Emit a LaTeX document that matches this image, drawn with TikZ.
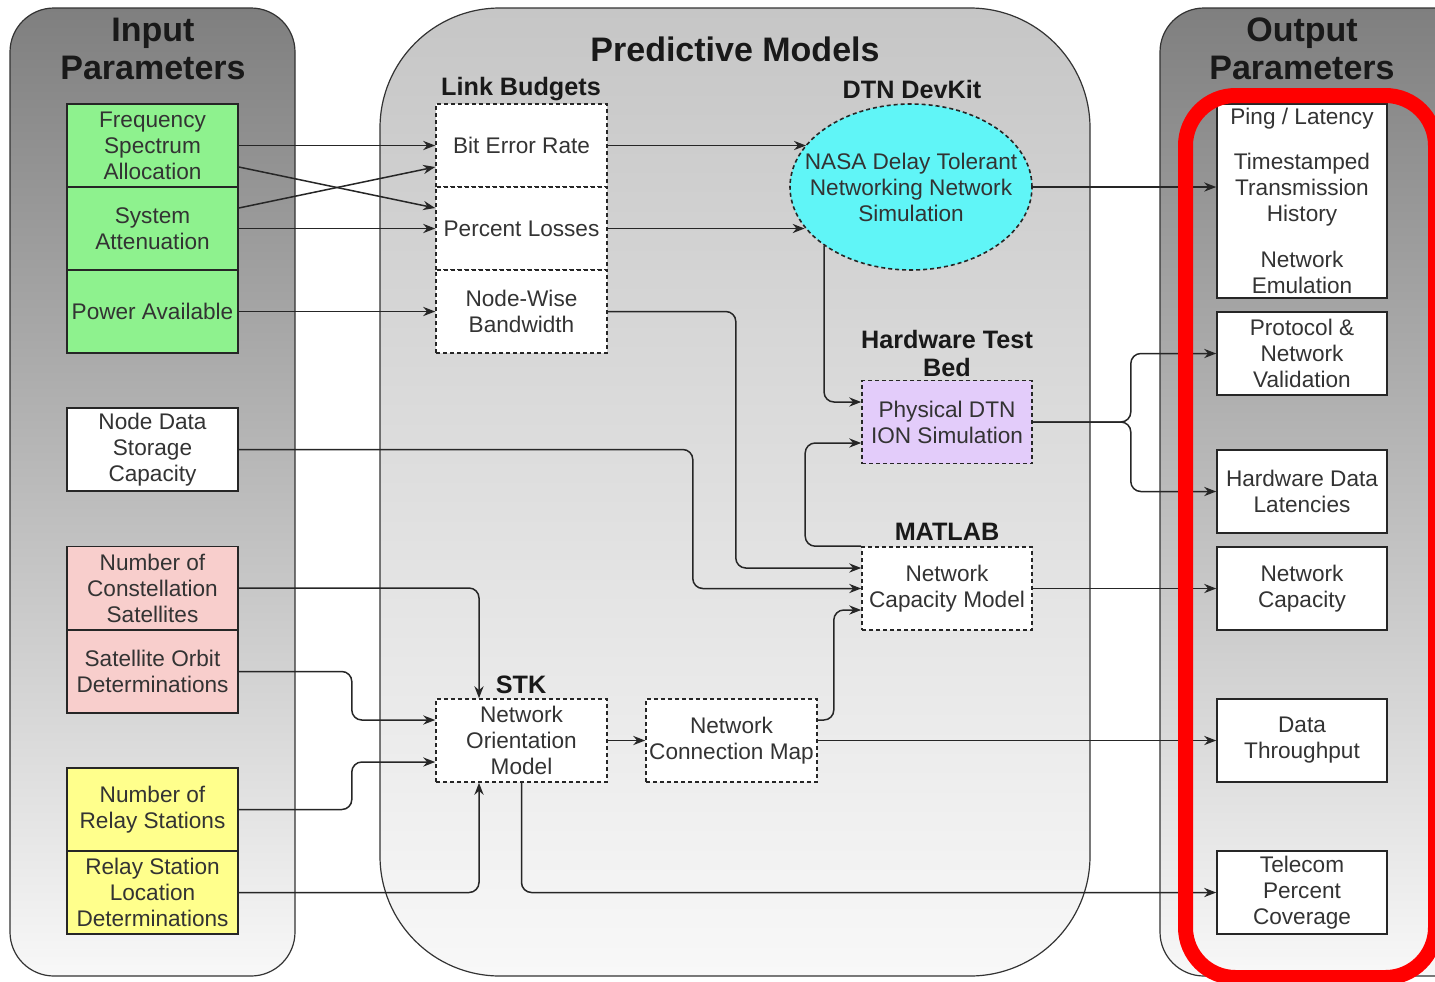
\documentclass[tikz,border=0pt]{standalone}
\usepackage{fontspec}
\setmainfont{Liberation Sans}
\usepackage{xcolor}
\usepackage{tikz}
\usetikzlibrary{shapes.geometric, arrows.meta, positioning}
\definecolor{ingreen}{HTML}{8EF28E}
\definecolor{inpink}{HTML}{F8CECC}
\definecolor{inyellow}{HTML}{FFFF8C}
\definecolor{devcyan}{HTML}{60F5F7}
\definecolor{hwlilac}{HTML}{E3CCFA}
\definecolor{panetop}{HTML}{7F7F7F}
\definecolor{panemid}{HTML}{C6C6C6}
\definecolor{panebot}{HTML}{F8F8F8}
\tikzstyle{arrow}     = [line width=0.75pt, draw=black!85, -{Stealth[length=6pt,width=4.6pt]}]
\tikzset{every node/.style={align=center}}

\begin{document}
\begin{tikzpicture}[x=0.5pt, y=-0.5pt,
    param/.style={rectangle, draw=black!85, line width=0.8pt,
                  minimum width=85.5pt, minimum height=41.5pt, inner sep=1pt,
                  font=\fontsize{11.3}{13}\selectfont, text=black!80},
    model/.style={param, dash pattern=on 2pt off 1.5pt, fill=white},
    result/.style={param, fill=white, minimum width=85pt},
    group/.style={font=\bfseries\fontsize{12.6}{14}\selectfont, text=black!90},
    title/.style={font=\bfseries\fontsize{17}{19}\selectfont, text=black!90},
    panel/.style={draw=black!80, line width=0.6pt, bottom color=panebot}
]
  \useasboundingbox (0,0) rectangle (1435,981);
  \clip (0,0) rectangle (1435,981);

  % --- panels ---
  \path[panel, top color=panetop, rounded corners=22pt] (10,8) rectangle (295,976);
  \path[panel, top color=panemid, rounded corners=60pt] (380,8) rectangle (1090,976);
  \path[panel, top color=panetop, rounded corners=22pt] (1160,8) rectangle (1480,976);
  \node[title] (tin)  at (153,49)  {Input\\Parameters};
  \node[title] (tpm)  at (735,49)  {Predictive Models};
  \node[title] (tout) at (1302,49) {Output\\Parameters};

  % --- input parameters ---
  \node[param, fill=ingreen]  (fsa) at (152.5,145.5) {Frequency\\Spectrum\\Allocation};
  \node[param, fill=ingreen]  (sat) at (152.5,228.5) {System\\Attenuation};
  \node[param, fill=ingreen]  (pow) at (152.5,311.5) {Power Available};
  \node[param, fill=white]    (nds) at (152.5,449.5) {Node Data\\Storage\\Capacity};
  \node[param, fill=inpink]   (ncs) at (152.5,588)   {Number of\\Constellation\\Satellites};
  \node[param, fill=inpink]   (sod) at (152.5,671.5) {Satellite Orbit\\Determinations};
  \node[param, fill=inyellow] (nrs) at (152.5,809.5) {Number of\\Relay Stations};
  \node[param, fill=inyellow] (rsl) at (152.5,892.5) {Relay Station\\Location\\Determinations};

  % --- predictive models ---
  \node[group] (glb) at (521,89) {Link Budgets};
  \node[model] (ber) at (521.5,145.5) {Bit Error Rate};
  \node[model] (pl)  at (521.5,228.5) {Percent Losses};
  \node[model] (nwb) at (521.5,311.5) {Node-Wise\\Bandwidth};

  \node[group] (gdk) at (912,89) {DTN DevKit};
  \node[ellipse, draw=black!85, line width=0.8pt, dash pattern=on 2pt off 1.5pt,
        fill=devcyan, minimum width=121pt, minimum height=83pt, inner sep=0pt] (dtn) at (911,187) {};
  \node[font=\fontsize{11.3}{13}\selectfont, text=black!80] (dtntext) at (dtn)
        {NASA Delay Tolerant\\Networking Network\\Simulation};

  \node[group] (ghw) at (947,353) {Hardware Test\\Bed};
  \node[model, fill=hwlilac, minimum width=85pt] (pdtn) at (947,422) {Physical DTN\\ION Simulation};

  \node[group] (gml) at (947,532) {MATLAB};
  \node[model, minimum width=85pt] (ncm) at (947,588.5) {Network\\Capacity Model};

  \node[group] (gstk) at (521,685) {STK};
  \node[model] (nom)   at (521.5,740.5) {Network\\Orientation\\Model};
  \node[model] (ncmap) at (731.5,740.5) {Network\\Connection Map};

  % --- output parameters ---
  \node[result, minimum height=97pt, inner sep=0.5pt] (ping) at (1302,201)
        {Ping / Latency\\[9.5pt]Timestamped\\Transmission\\History\\[10pt]Network\\Emulation};
  \node[result] (pnv)  at (1302,353.5) {Protocol \&\\Network\\Validation};
  \node[result] (hdl)  at (1302,491.5) {Hardware Data\\Latencies};
  \node[result] (ncap) at (1302,588.5) {Network\\Capacity};
  \node[result] (thr)  at (1302,740.5) {Data\\Throughput};
  \node[result] (tpc)  at (1302,892.5) {Telecom\\Percent\\Coverage};

  % --- link budget inputs ---
  \draw[arrow] (fsa.east) -- (ber.west);
  \draw[arrow] ([yshift=-10.75pt]fsa.east) -- ([yshift=10.25pt]pl.west);
  \draw[arrow] ([yshift=10.25pt]sat.east) -- ([yshift=-10.75pt]ber.west);
  \draw[arrow] (sat.east) -- (pl.west);
  \draw[arrow] (pow.east) -- (nwb.west);

  % --- DTN DevKit and hardware ---
  \draw[arrow] (ber.east) -- (ber.east -| dtn.158.7);
  \draw[arrow] (pl.east) -- (pl.east -| dtn.201.9);
  \draw[arrow] (dtn.east) -- (dtn.east -| ping.west);
  \draw[arrow, rounded corners=5pt] (dtn.214.8) |- ([yshift=10pt]pdtn.west);
  \draw[arrow, rounded corners=5pt] (pdtn.east) -- ++(98,0) |- (pnv.west);
  \draw[arrow, rounded corners=5pt] (pdtn.east) -- ++(98,0) |- (hdl.west);

  % --- MATLAB ---
  \draw[arrow, rounded corners=5pt] (nwb.east) -- ++(128,0) |- ([yshift=10.25pt]ncm.west);
  \draw[arrow, rounded corners=5pt] (nds.east) -- ++(454,0) |- (ncm.west);
  \draw[arrow, rounded corners=5pt] (ncm.north west) -- ++(-56,0) |- ([yshift=-10.5pt]pdtn.west);
  \draw[arrow] (ncm.east) -- (ncap.west);

  % --- STK ---
  \draw[arrow, rounded corners=5pt] (ncs.east) -| ([xshift=-21.25pt]nom.north);
  \draw[arrow, rounded corners=5pt] (sod.east) -- ++(113,0) |- ([yshift=10.25pt]nom.west);
  \draw[arrow, rounded corners=5pt] (nrs.east) -- ++(113,0) |- ([yshift=-10.75pt]nom.west);
  \draw[arrow, rounded corners=5pt] (rsl.east) -| ([xshift=-21.25pt]nom.south);
  \draw[arrow] (nom.east) -- (ncmap.west);
  \draw[arrow, rounded corners=5pt] ([yshift=10.25pt]ncmap.east) -- ++(16,0) |- ([yshift=-10.75pt]ncm.west);
  \draw[arrow] (ncmap.east) -- (thr.west);
  \draw[arrow, rounded corners=5pt] (nom.south) |- (tpc.west);

  % --- highlight ---
  \draw[red, line width=7.5pt, rounded corners=25pt] (1185.5,95.5) rectangle (1435.5,977.5);
\end{tikzpicture}
\end{document}
